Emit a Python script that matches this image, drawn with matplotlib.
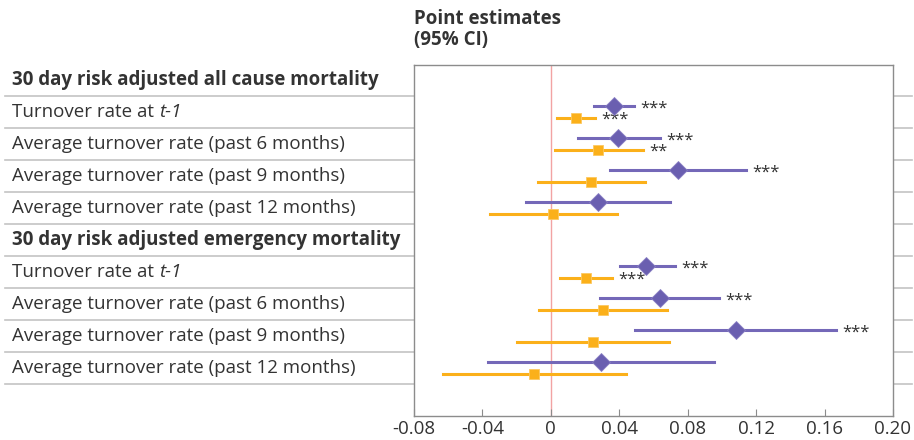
import matplotlib
matplotlib.use("Agg")
import matplotlib.pyplot as plt
import matplotlib.transforms as mtransforms
from matplotlib.lines import Line2D

plt.rcParams["font.family"] = ["Open Sans", "DejaVu Sans"]

# row labels; an italic tail is kept separately (the "t-1")
row_labels = [
    "30 day risk adjusted all cause mortality",
    "Turnover rate at ",
    "Average turnover rate (past 6 months)",
    "Average turnover rate (past 9 months)",
    "Average turnover rate (past 12 months)",
    "30 day risk adjusted emergency mortality",
    "Turnover rate at ",
    "Average turnover rate (past 6 months)",
    "Average turnover rate (past 9 months)",
    "Average turnover rate (past 12 months)",
]
italic_tails = ["", "t-1", "", "", "", "", "t-1", "", "", ""]
header_rows = [0, 5]
data_rows = [1, 2, 3, 4, 6, 7, 8, 9]

# purple (diamond) series
purple_est = [0.037, 0.0395, 0.0742, 0.0276, 0.0559, 0.0637, 0.1081, 0.0292]
purple_lo = [0.0253, 0.0156, 0.0345, -0.0143, 0.0403, 0.0288, 0.0489, -0.0368]
purple_hi = [0.0487, 0.0637, 0.1140, 0.0696, 0.0727, 0.0984, 0.1668, 0.0955]
purple_sig = ["***", "***", "***", "", "***", "***", "***", ""]

# orange (square) series
orange_est = [0.0146, 0.0278, 0.0236, 0.0015, 0.0206, 0.0304, 0.0245, -0.0098]
orange_lo = [0.0035, 0.0025, -0.0078, -0.0357, 0.0056, -0.0067, -0.0195, -0.0628]
orange_hi = [0.0259, 0.0536, 0.0549, 0.0389, 0.0357, 0.0676, 0.0688, 0.0438]
orange_sig = ["***", "**", "", "", "***", "", "", ""]

xticks = [-0.08, -0.04, 0, 0.04, 0.08, 0.12, 0.16, 0.20]
xtick_labels = ["-0.08", "-0.04", "0", "0.04", "0.08", "0.12", "0.16", "0.20"]

purple = "#6a5fb0"
orange = "#fbb01a"
grid_col = "#c4c4c4"
text_col = "#333333"
fs = 13.5

fig = plt.figure(figsize=(9.14, 4.40), dpi=100)
ax = fig.add_axes([414 / 914, 24 / 440, 479 / 914, 351 / 440])

ax.set_xlim(-0.08, 0.20)
ax.set_ylim(10.5, -0.47)

off = 0.18
for i, r in enumerate(data_rows):
    y1 = r - off
    y2 = r + off
    ax.plot([purple_lo[i], purple_hi[i]], [y1, y1], color="#7468b8", lw=2.2, zorder=3)
    ax.plot(purple_est[i], y1, marker="D", ms=9, color=purple, mec="#8a80c4", mew=0.6, zorder=4)
    ax.plot([orange_lo[i], orange_hi[i]], [y2, y2], color=orange, lw=2.2, zorder=3)
    ax.plot(orange_est[i], y2, marker="s", ms=7.5, color=orange, mec="#fcc860", mew=0.6, zorder=4)
    if purple_sig[i]:
        ax.annotate(purple_sig[i], (purple_hi[i], y1), xytext=(4.5, -1.5),
                    textcoords="offset points", va="center", ha="left",
                    fontsize=12, color=text_col)
    if orange_sig[i]:
        ax.annotate(orange_sig[i], (orange_hi[i], y2), xytext=(4.5, -1.5),
                    textcoords="offset points", va="center", ha="left",
                    fontsize=12, color=text_col)

ax.axvline(0, color="#f2a3a3", lw=1, zorder=1)

for s in ax.spines.values():
    s.set_color("#8c8c8c")
    s.set_linewidth(1)

ax.set_yticks([])
ax.set_xticks(xticks)
ax.set_xticklabels(xtick_labels, fontsize=fs, color=text_col)
ax.tick_params(axis="x", direction="in", length=5, color="#8c8c8c", pad=3)

# row separators across the whole figure
trans = mtransforms.blended_transform_factory(fig.transFigure, ax.transData)
for k in range(10):
    yl = k + 0.5
    fig.add_artist(Line2D([5 / 914, 912 / 914], [yl, yl], transform=trans,
                          color=grid_col, lw=1.2, zorder=0))

renderer = fig.canvas.get_renderer()
for r, lab in enumerate(row_labels):
    bold = r in header_rows
    t = fig.text(12 / 914, r, lab, transform=trans, va="center", ha="left",
                 fontsize=fs, color=text_col, fontweight="bold" if bold else "normal")
    if italic_tails[r]:
        bb = t.get_window_extent(renderer)
        fig.text(bb.x1 / 914, r, italic_tails[r], transform=trans, va="center",
                 ha="left", fontsize=fs, color=text_col, style="italic")

fig.text(414 / 914, 1 - 9 / 440, "Point estimates\n(95% CI)", va="top", ha="left",
         fontsize=fs, fontweight="bold", color=text_col, linespacing=1.05)

fig.savefig("out.png", dpi=100)
